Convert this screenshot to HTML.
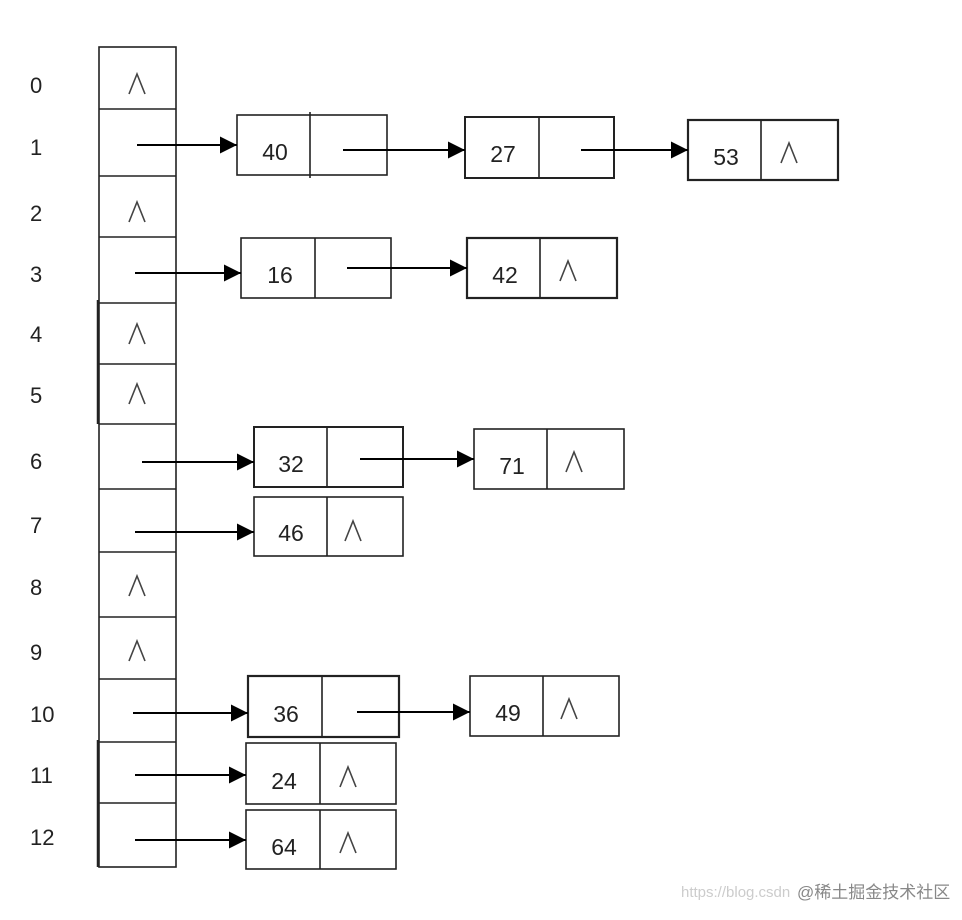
<!DOCTYPE html>
<html><head><meta charset="utf-8"><style>body{margin:0;background:#fff}</style></head><body>
<svg width="962" height="915" xmlns="http://www.w3.org/2000/svg" font-family="Liberation Sans, sans-serif">
<defs><marker id="a" markerWidth="10" markerHeight="10" refX="9" refY="5" orient="auto" markerUnits="userSpaceOnUse"><path d="M0,0 L10,5 L0,10 z" fill="#000"/></marker>
<marker id="b" viewBox="0 0 10 10" markerWidth="17" markerHeight="17" refX="10" refY="5" orient="auto" markerUnits="userSpaceOnUse"><path d="M0,0 L10,5 L0,10 z" fill="#000"/></marker>
<symbol id="c" overflow="visible"><polyline points="-8,10 0,-10 8,10" fill="none" stroke="#444" stroke-width="1.6"/></symbol></defs>
<g font-size="22" fill="#222">
<text x="30" y="93">0</text><text x="30" y="155">1</text><text x="30" y="221">2</text><text x="30" y="282">3</text><text x="30" y="342">4</text><text x="30" y="403">5</text><text x="30" y="469">6</text><text x="30" y="533">7</text><text x="30" y="595">8</text><text x="30" y="660">9</text><text x="30" y="722">10</text><text x="30" y="783">11</text><text x="30" y="845">12</text>
</g>
<g fill="none" stroke="#222" stroke-width="1.6">
<rect x="99" y="47" width="77" height="820"/>
<path d="M99 109H176M99 176H176M99 237H176M99 303H176M99 364H176M99 424H176M99 489H176M99 552H176M99 617H176M99 679H176M99 742H176M99 803H176"/>
<path d="M98 300V424M98 740V867" stroke-width="2.5"/>
<rect x="237" y="115" width="150" height="60"/><path d="M310 112V178"/>
<rect x="465" y="117" width="149" height="61" stroke-width="2"/><path d="M539 117V178"/>
<rect x="688" y="120" width="150" height="60" stroke-width="2.2"/><path d="M761 120V180"/>
<rect x="241" y="238" width="150" height="60"/><path d="M315 238V298"/>
<rect x="467" y="238" width="150" height="60" stroke-width="2.2"/><path d="M540 238V298"/>
<rect x="254" y="427" width="149" height="60" stroke-width="2"/><path d="M327 427V487"/>
<rect x="474" y="429" width="150" height="60"/><path d="M547 429V489"/>
<rect x="254" y="497" width="149" height="59"/><path d="M327 497V556"/>
<rect x="248" y="676" width="151" height="61" stroke-width="2.2"/><path d="M322 676V737"/>
<rect x="470" y="676" width="149" height="60"/><path d="M543 676V736"/>
<rect x="246" y="743" width="150" height="61"/><path d="M320 743V804"/>
<rect x="246" y="810" width="150" height="59"/><path d="M320 810V869"/>
</g>
<g stroke="#000" stroke-width="2" marker-end="url(#b)">
<line x1="137" y1="145" x2="237" y2="145"/>
<line x1="343" y1="150" x2="465" y2="150"/>
<line x1="581" y1="150" x2="688" y2="150"/>
<line x1="135" y1="273" x2="241" y2="273"/>
<line x1="347" y1="268" x2="467" y2="268"/>
<line x1="142" y1="462" x2="254" y2="462"/>
<line x1="360" y1="459" x2="474" y2="459"/>
<line x1="135" y1="532" x2="254" y2="532"/>
<line x1="133" y1="713" x2="248" y2="713"/>
<line x1="357" y1="712" x2="470" y2="712"/>
<line x1="135" y1="775" x2="246" y2="775"/>
<line x1="135" y1="840" x2="246" y2="840"/>
</g>
<g font-size="23" fill="#222" text-anchor="middle">
<text x="275" y="160">40</text><text x="503" y="162">27</text><text x="726" y="165">53</text>
<text x="280" y="283">16</text><text x="505" y="283">42</text>
<text x="291" y="472">32</text><text x="512" y="474">71</text>
<text x="291" y="541">46</text>
<text x="286" y="722">36</text><text x="508" y="721">49</text>
<text x="284" y="789">24</text><text x="284" y="855">64</text>
</g>
<use href="#c" x="137" y="84"/><use href="#c" x="137" y="212"/><use href="#c" x="137" y="334"/><use href="#c" x="137" y="394"/><use href="#c" x="137" y="586"/><use href="#c" x="137" y="651"/>
<use href="#c" x="789" y="153"/><use href="#c" x="568" y="271"/><use href="#c" x="574" y="462"/><use href="#c" x="353" y="531"/><use href="#c" x="569" y="709"/><use href="#c" x="348" y="777"/><use href="#c" x="348" y="843"/>
<text x="681" y="897" font-size="15" fill="#ccc">https://blog.csdn</text>
<text x="797" y="898" font-size="17" fill="#888" font-family="Liberation Sans, Noto Sans CJK SC, sans-serif">@稀土掘金技术社区</text>
</svg>
</body></html>
